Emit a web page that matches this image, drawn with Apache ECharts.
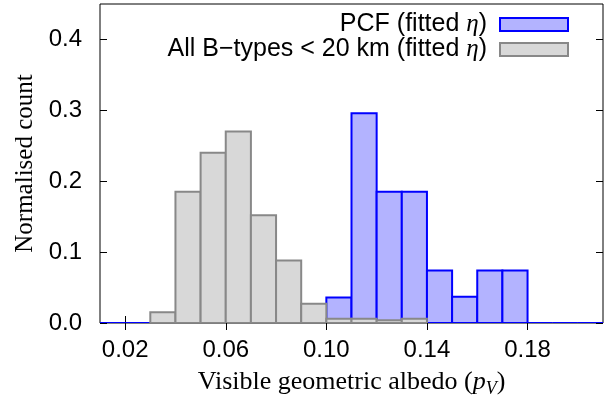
<!DOCTYPE html>
<html>
<head>
<meta charset="utf-8">
<script src="https://cdn.jsdelivr.net/npm/echarts@6/dist/echarts.min.js"></script>
<style>
  html, body { margin: 0; padding: 0; background: #fff; }
  #chart { width: 609px; height: 403px; }
</style>
</head>
<body>
<div id="chart"></div>
<script>
// histogram bins (left edge, width 0.01)
const binStarts = [0.01, 0.02, 0.03, 0.04, 0.05, 0.06, 0.07, 0.08, 0.09, 0.10,
  0.11, 0.12, 0.13, 0.14, 0.15, 0.16, 0.17, 0.18, 0.19, 0.20];
const binWidth = 0.01;
const pcfCounts = [0, 0, 0, 0, 0, 0, 0, 0, 0, 0.036,
  0.296, 0.185, 0.185, 0.074, 0.037, 0.074, 0.074, 0, 0, 0];
const bTypeCounts = [0, 0, 0.015, 0.185, 0.24, 0.27, 0.152, 0.088, 0.027, 0.006,
  0.006, 0.004, 0.006, 0, 0, 0, 0, 0, 0, 0];
const xTicks = [0.02, 0.06, 0.10, 0.14, 0.18];
const yTicks = [0, 0.1, 0.2, 0.3, 0.4];

const sans = "Liberation Sans";
const serif = "Liberation Serif";

const toBins = (counts) =>
  binStarts.map((s, i) => [s, +(s + binWidth).toFixed(2), counts[i]]);

function histItem(fill, stroke, skipZero) {
  return function (params, api) {
    const h = api.value(2);
    const p0 = api.coord([api.value(0), h]);
    const p1 = api.coord([api.value(1), 0]);
    if (h === 0) {
      if (skipZero) return null;
      // empty bin: only the bottom edge shows
      return {
        type: "line",
        shape: { x1: p0[0], y1: p1[1], x2: p1[0], y2: p1[1] },
        style: { stroke: stroke, lineWidth: 2 },
      };
    }
    return {
      type: "rect",
      shape: { x: p0[0], y: p0[1], width: p1[0] - p0[0], height: p1[1] - p0[1] },
      style: { fill: fill, stroke: stroke, lineWidth: 2 },
    };
  };
}

const tickStyle = { show: true, inside: true, length: 7, lineStyle: { color: "#000", width: 1 } };

const chart = echarts.init(document.getElementById("chart"));
const option = {
  animation: false,
  grid: {
    left: 100, right: 6, top: 4, bottom: 80,
    show: true, borderColor: "#000", borderWidth: 1,
  },
  legend: {
    orient: "vertical",
    right: 35,
    top: 7,
    align: "right",
    itemWidth: 68,
    itemHeight: 13,
    itemGap: 0,
    data: [
      { name: "PCF", icon: "rect", itemStyle: { color: "#b3b3ff", borderColor: "#0000ff", borderWidth: 2 } },
      { name: "All", icon: "rect", itemStyle: { color: "#d8d8d8", borderColor: "#888888", borderWidth: 2 } },
    ],
    formatter: (name) =>
      name === "PCF"
        ? "{a|PCF (fitted }{e|η}{z|)}"
        : "{a|All B−types < 20 km (fitted }{e|η}{z|)}",
    textStyle: {
      rich: {
        a: { fontFamily: sans, fontSize: 25, color: "#000", lineHeight: 26 },
        e: { fontFamily: serif, fontStyle: "italic", fontSize: 25, color: "#000", lineHeight: 26 },
        z: { fontFamily: sans, fontSize: 25, color: "#000", lineHeight: 26, padding: [0, 8, 0, 0] },
      },
    },
  },
  xAxis: [
    {
      type: "value",
      min: 0.01,
      max: 0.21,
      axisLine: { show: false },
      splitLine: { show: false },
      axisTick: Object.assign({ customValues: xTicks }, tickStyle),
      axisLabel: {
        customValues: xTicks,
        formatter: (v) => v.toFixed(2),
        fontFamily: sans, fontSize: 24, color: "#000", margin: 15,
      },
      name: "{t|Visible geometric albedo (}{p|p}{s|V}{t|)}",
      nameLocation: "middle",
      nameGap: 43,
      nameTextStyle: {
        rich: {
          t: { fontFamily: serif, fontSize: 26, color: "#000", lineHeight: 32 },
          p: { fontFamily: serif, fontStyle: "italic", fontSize: 26, color: "#000", lineHeight: 32 },
          s: { fontFamily: serif, fontStyle: "italic", fontSize: 18, color: "#000", lineHeight: 18, verticalAlign: "bottom" },
        },
      },
    },
    {
      type: "value",
      position: "top",
      min: 0.01,
      max: 0.21,
      axisLine: { show: false },
      splitLine: { show: false },
      axisTick: Object.assign({ customValues: xTicks }, tickStyle),
      axisLabel: { show: false },
    },
  ],
  yAxis: [
    {
      type: "value",
      min: 0,
      max: 0.45,
      axisLine: { show: false },
      splitLine: { show: false },
      axisTick: Object.assign({ customValues: yTicks }, tickStyle),
      axisLabel: {
        customValues: yTicks,
        formatter: (v) => v.toFixed(1),
        fontFamily: sans, fontSize: 24, color: "#000", margin: 18,
      },
      name: "Normalised count",
      nameLocation: "middle",
      nameGap: 62,
      nameTextStyle: { fontFamily: serif, fontSize: 25, color: "#000" },
    },
    {
      type: "value",
      position: "right",
      min: 0,
      max: 0.45,
      axisLine: { show: false },
      splitLine: { show: false },
      axisTick: Object.assign({ customValues: yTicks }, tickStyle),
      axisLabel: { show: false },
    },
  ],
  series: [
    {
      name: "PCF",
      type: "custom",
      renderItem: histItem("#b3b3ff", "#0000ff", false),
      encode: { x: [0, 1], y: 2 },
      data: toBins(pcfCounts),
      clip: true,
      z: 2,
    },
    {
      name: "All",
      type: "custom",
      renderItem: histItem("#d8d8d8", "#888888", true),
      encode: { x: [0, 1], y: 2 },
      data: toBins(bTypeCounts),
      clip: true,
      z: 3,
    },
  ],
};
chart.setOption(option);
</script>
</body>
</html>
